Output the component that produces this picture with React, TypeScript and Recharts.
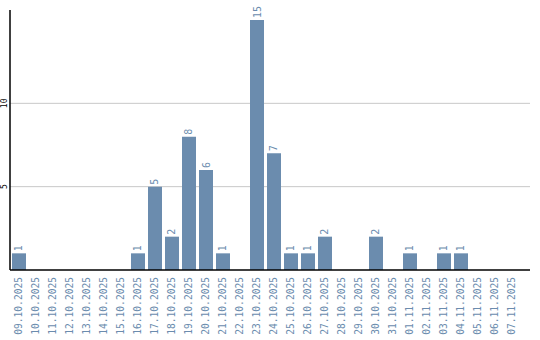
import { BarChart, Bar, XAxis, YAxis, CartesianGrid, LabelList } from "recharts";

const dates = [
  "09.10.2025", "10.10.2025", "11.10.2025", "12.10.2025", "13.10.2025",
  "14.10.2025", "15.10.2025", "16.10.2025", "17.10.2025", "18.10.2025",
  "19.10.2025", "20.10.2025", "21.10.2025", "22.10.2025", "23.10.2025",
  "24.10.2025", "25.10.2025", "26.10.2025", "27.10.2025", "28.10.2025",
  "29.10.2025", "30.10.2025", "31.10.2025", "01.11.2025", "02.11.2025",
  "03.11.2025", "04.11.2025", "05.11.2025", "06.11.2025", "07.11.2025",
];
const counts = [
  1, 0, 0, 0, 0, 0, 0, 1, 5, 2,
  8, 6, 1, 0, 15, 7, 1, 1, 2, 0,
  0, 2, 0, 1, 0, 1, 1, 0, 0, 0,
];
const yTicks = [5, 10];

const data = dates.map((d, i) => ({ date: d, count: counts[i] }));

const BLUE = "#6b8cae";
const FONT = "'DejaVu Sans Mono', monospace";

function DateTick({ x, y, payload }: any) {
  const ty = y - 1;
  return (
    <text
      x={x}
      y={ty}
      transform={`rotate(-90, ${x}, ${ty})`}
      textAnchor="end"
      dominantBaseline="central"
      fill={BLUE}
      fontSize={9.6}
      fontFamily={FONT}
    >
      {payload.value}
    </text>
  );
}

function CountTick({ y, payload }: any) {
  return (
    <text
      x={5}
      y={y}
      transform={`rotate(-90, 5, ${y})`}
      textAnchor="middle"
      dominantBaseline="central"
      fill="#000"
      fontSize={8}
      fontFamily={FONT}
    >
      {payload.value}
    </text>
  );
}

function BarValue({ x, y, width, value }: any) {
  if (!value) return null;
  const cx = x + width / 2;
  const ty = y - 2;
  return (
    <text
      x={cx}
      y={ty}
      transform={`rotate(-90, ${cx}, ${ty})`}
      textAnchor="start"
      dominantBaseline="central"
      fill={BLUE}
      fontSize={10}
      fontFamily={FONT}
    >
      {value}
    </text>
  );
}

export default function App() {
  return (
    <div style={{ position: "absolute", left: 0, top: 0, width: 540, height: 340, background: "#fff" }}>
      <BarChart
        width={540}
        height={340}
        data={data}
        margin={{ top: 10, right: 10, left: 0, bottom: 0 }}
        barSize={14}
      >
        <CartesianGrid vertical={false} stroke="#c8c8c8" syncWithTicks />
        <XAxis
          dataKey="date"
          interval={0}
          height={70}
          padding={{ left: 0, right: 10 }}
          tick={<DateTick />}
          tickLine={false}
          axisLine={{ stroke: "#000", strokeWidth: 1.5 }}
        />
        <YAxis
          width={10}
          domain={[0, 15.6]}
          ticks={yTicks}
          tick={<CountTick />}
          tickLine={false}
          axisLine={{ stroke: "#000", strokeWidth: 1.5 }}
        />
        <Bar dataKey="count" fill={BLUE} isAnimationActive={false}>
          <LabelList dataKey="count" content={<BarValue />} />
        </Bar>
      </BarChart>
    </div>
  );
}
